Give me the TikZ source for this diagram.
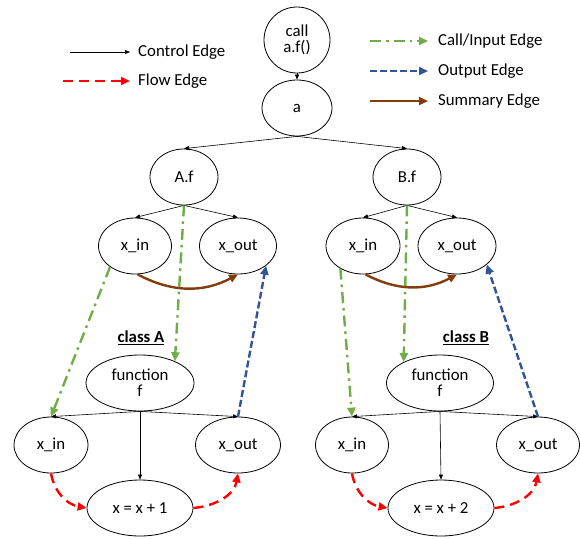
\documentclass[tikz,border=0pt]{standalone}
\usepackage{fontspec}
\setmainfont{Carlito}
\usetikzlibrary{shapes.geometric}
\usetikzlibrary{arrows.meta}

\definecolor{callgreen}{RGB}{112,173,71}
\definecolor{outblue}{RGB}{47,85,151}
\definecolor{sumbrown}{RGB}{132,60,12}

\tikzset{
  vert/.style={ellipse,draw,line width=0.8pt,inner sep=0pt,align=center,
    minimum width=72pt,minimum height=56pt},
  ctrl/.style={line width=0.6pt,-{Triangle[length=5pt,width=4pt]}},
  flow/.style={red,line width=2.4pt,dash pattern=on 10pt off 6pt,
    -{Triangle[length=9pt,width=8pt]}},
  callin/.style={callgreen,line width=2.4pt,
    dash pattern=on 11pt off 5pt on 2.5pt off 5pt,-{Triangle[length=9pt,width=8pt]}},
  outedge/.style={outblue,line width=2.4pt,dash pattern=on 7pt off 3pt,
    -{Triangle[length=9pt,width=8pt]}},
  summ/.style={sumbrown,line width=2.4pt,-{Triangle[length=9pt,width=8pt]}},
  lbl/.style={anchor=west,inner sep=0pt}
}

\begin{document}
\begin{tikzpicture}[x=1pt,y=-1pt,font=\fontsize{16.8}{19}\selectfont]
\useasboundingbox (0,0) rectangle (580,538);

% legend
\node[lbl] (lctrl) at (138,52) {Control Edge};
\node[lbl] (lflow) at (138,81) {Flow Edge};
\node[lbl] (lcall) at (438,41) {Call/Input Edge};
\node[lbl] (lout) at (438,71) {Output Edge};
\node[lbl] (lsum) at (438,101) {Summary Edge};
\coordinate (c1) at (70,52);  \coordinate (c2) at (130,52);
\coordinate (f1) at (63,81);  \coordinate (f2) at (130,81);
\coordinate (g1) at (370,41); \coordinate (g2) at (428,41);
\coordinate (o1) at (370,71); \coordinate (o2) at (428,71);
\coordinate (s1) at (370,101); \coordinate (s2) at (428,101);
\draw[ctrl] (c1) -- (c2);
\draw[flow] (f1) -- (f2);
\draw[callin] (g1) -- (g2);
\draw[outedge] (o1) -- (o2);
\draw[summ] (s1) -- (s2);

% top
\node[vert,minimum width=66pt,minimum height=66pt] (call) at (297,40) {call\\[-3pt]a.f()};
\node[vert,minimum width=70pt] (a) at (297,108) {a};
\node[vert,minimum width=68pt] (Af) at (184,177) {A.f};
\node[vert,minimum width=68pt] (Bf) at (407,177) {B.f};

% class A
\node[vert,minimum width=73pt] (ain) at (135,246) {x\_in};
\node[vert,minimum width=77pt] (aout) at (238,246) {x\_out};
\node[font=\fontsize{16.8}{19}\selectfont\bfseries] (clA) at (141,338) {\underline{class A}};
\node[vert,minimum width=108pt] (fA) at (140,383) {function\\[-3pt]f};
\node[vert,minimum width=74pt] (fAin) at (51,445) {x\_in};
\node[vert,minimum width=85pt] (fAout) at (238,445) {x\_out};
\node[vert,minimum width=106pt] (stA) at (140,508) {x = x + 1};

% class B
\node[vert,minimum width=74pt] (bin) at (363,246) {x\_in};
\node[vert,minimum width=78pt] (bout) at (457,246) {x\_out};
\node[font=\fontsize{16.8}{19}\selectfont\bfseries] (clB) at (466,338) {\underline{class B}};
\node[vert,minimum width=107pt] (fB) at (440,383) {function\\[-3pt]f};
\node[vert,minimum width=73pt] (fBin) at (352,445) {x\_in};
\node[vert,minimum width=83pt] (fBout) at (538,445) {x\_out};
\node[vert,minimum width=106pt] (stB) at (441,508) {x = x + 2};

% control edges
\draw[ctrl] (call) -- (a);
\draw[ctrl] (a.south) -- (Af.north);
\draw[ctrl] (a.south) -- (Bf.north);
\draw[ctrl] (Af.south) -- (ain.north);
\draw[ctrl] (Af.south) -- (aout.north);
\draw[ctrl] (Bf.south) -- (bin.north);
\draw[ctrl] (Bf.south) -- (bout.north);
\draw[ctrl] (fA.south) -- (fAin.north);
\draw[ctrl] (fA.south) -- (fAout.north);
\draw[ctrl] (fA.south) -- (stA.north);
\draw[ctrl] (fB.south) -- (fBin.north);
\draw[ctrl] (fB.south) -- (fBout.north);
\draw[ctrl] (fB.south) -- (stB.north);

% call / input
\draw[callin] (Af.south) -- (fA.32);
\draw[callin] (ain.-140) -- (fAin.north);
\draw[callin] (Bf.south) -- (fB.150);
\draw[callin] (bin.-135) -- (fBin.north);

% output
\draw[outedge] (fAout.north) -- (aout.-35);
\draw[outedge] (fBout.north) -- (bout.-32);

% summary
\draw[summ] (ain.-85) to[bend right=28] (aout.-90);
\draw[summ] (bin.-85) to[bend right=28] (bout.-90);

% flow
\draw[flow] (fAin.south) to[out=-80,in=170] (stA.west);
\draw[flow] (stA.east) to[out=5,in=-100] (fAout.south);
\draw[flow] (fBin.south) to[out=-80,in=170] (stB.west);
\draw[flow] (stB.east) to[out=5,in=-100] (fBout.south);
\end{tikzpicture}
\end{document}
